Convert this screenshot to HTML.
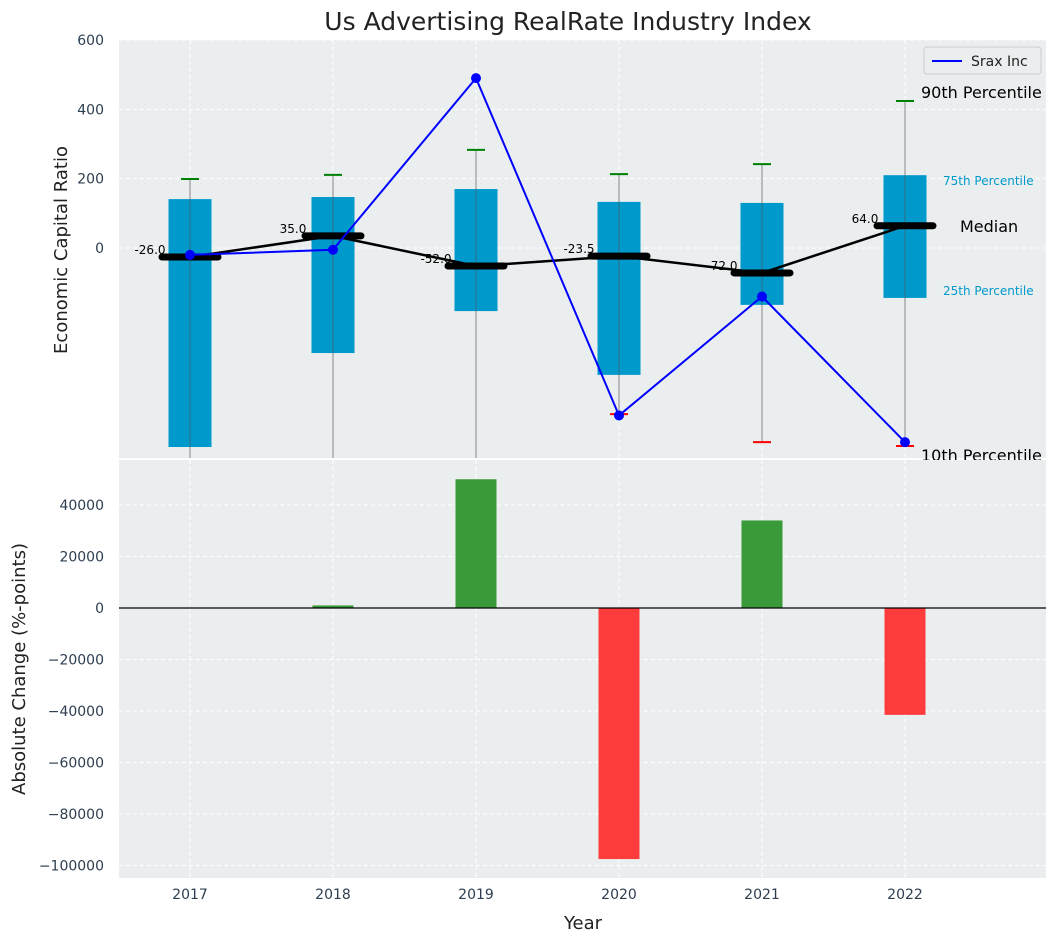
<!DOCTYPE html>
<html><head><meta charset="utf-8"><style>
body{margin:0;background:#fff;font-family:"Liberation Sans","DejaVu Sans",sans-serif}
svg text{font-family:"DejaVu Sans","Liberation Sans",sans-serif}
</style></head><body>
<svg id="c" width="1058" height="942"></svg>
<script>
const years=["2017","2018","2019","2020","2021","2022"];
const q75=[141,147,170,133,130,210];
const q25=[-574,-303,-182,-366,-164,-144];
const p90=[199,211,283,213,242,424];
const p10=[-700,-700,-700,-479,-560,-571];
const medians=[-26,35,-52,-23.5,-72,64];
const srax=[-20,-5,490,-483,-140,-560];
const changes=[0,1000,50000,-97500,34000,-41500];
const topTicks=[600,400,200,0];
const botTicks=[40000,20000,0,-20000,-40000,-60000,-80000,-100000];

const NS="http://www.w3.org/2000/svg";
const svg=document.getElementById('c');
function el(t,a,p){const e=document.createElementNS(NS,t);for(const k in a)e.setAttribute(k,a[k]);(p||svg).appendChild(e);return e;}
const L=119,R=1046;
const xs=i=>190+i*143;
const yT=v=>248-v*0.3467;
const yB=v=>608-v*0.002575;

el('text',{x:568,y:30,'font-size':25,fill:'#222','text-anchor':'middle'}).textContent='Us Advertising RealRate Industry Index';
let bg=el('rect',{x:L,y:40,width:R-L,height:418,fill:'#eaeeef'});

let cp=el('clipPath',{id:'ct'});el('rect',{x:L,y:40,width:R-L,height:418},cp);
let cpb=el('clipPath',{id:'cb'});el('rect',{x:L,y:460,width:R-L,height:418},cpb);
topTicks.forEach(t=>{
  el('line',{x1:L,x2:R,y1:yT(t),y2:yT(t),stroke:'#fff','stroke-dasharray':'4,3'});
  const tx=el('text',{x:104,y:yT(t)+5,'font-size':14,fill:'#2d3e50','text-anchor':'end'});tx.textContent=t;
  
});
years.forEach((y,i)=>{
  el('line',{x1:xs(i),x2:xs(i),y1:40,y2:878,stroke:'#fff','stroke-dasharray':'4,3'});
});
const gT=el('g',{'clip-path':'url(#ct)'});
years.forEach((y,i)=>{
  const x=xs(i);
  el('line',{x1:x,x2:x,y1:yT(p90[i]),y2:yT(p10[i]),stroke:'#888','stroke-width':1},gT);
  const b=el('rect',{x:x-21.5,y:yT(q75[i]),width:43,height:yT(q25[i])-yT(q75[i]),fill:'#0099cc'},gT);
  
  el('line',{x1:x,x2:x,y1:yT(q75[i]),y2:yT(q25[i]),stroke:'#555','stroke-width':1,opacity:0.6},gT);
  el('line',{x1:x-9,x2:x+9,y1:yT(p90[i]),y2:yT(p90[i]),stroke:'green','stroke-width':2},gT);
  el('line',{x1:x-9,x2:x+9,y1:yT(p10[i]),y2:yT(p10[i]),stroke:'red','stroke-width':2},gT);
  const m=el('line',{x1:x-28,x2:x+28,y1:yT(medians[i]),y2:yT(medians[i]),stroke:'#000','stroke-width':7,'stroke-linecap':'round'},gT);
  
  const t=el('text',{x:x-40,y:yT(medians[i])-3,'font-size':12,fill:'#000','text-anchor':'middle'},gT);t.textContent=medians[i].toFixed(1);
});
el('polyline',{points:medians.map((v,i)=>xs(i)+','+yT(v)).join(' '),fill:'none',stroke:'#000','stroke-width':2.5},gT);
const sl=el('polyline',{points:srax.map((v,i)=>xs(i)+','+yT(v)).join(' '),fill:'none',stroke:'blue','stroke-width':2},gT);

srax.forEach((v,i)=>el('circle',{cx:xs(i),cy:yT(v),r:5,fill:'blue'},gT));
[['90th Percentile',921,yT(424)-3,16,'#000'],['Median',960,232,16,'#000'],['75th Percentile',943,185,12,'#0099cc'],['25th Percentile',943,295,12,'#0099cc'],['10th Percentile',921,461,16,'#000']].forEach(a=>{
  const t=el('text',{x:a[1],y:a[2],'font-size':a[3],fill:a[4]});t.textContent=a[0];
  
});
const lg=el('g',{});
el('rect',{x:924,y:47,width:117,height:27,rx:3,fill:'#eaeeef',stroke:'#ccc'},lg);
el('line',{x1:932,x2:962,y1:61,y2:61,stroke:'blue','stroke-width':2},lg);
el('text',{x:971,y:66,'font-size':14,fill:'#222'},lg).textContent='Srax Inc';
const yl=el('text',{x:0,y:0,'font-size':18,fill:'#222','text-anchor':'middle',transform:'translate(67,250) rotate(-90)'});yl.textContent='Economic Capital Ratio';
const bg2=el('rect',{x:L,y:460,width:R-L,height:418,fill:'#eaeeef'});

botTicks.forEach(t=>{
  el('line',{x1:L,x2:R,y1:yB(t),y2:yB(t),stroke:'#fff','stroke-dasharray':'4,3'});
  const tx=el('text',{x:104,y:yB(t)+5,'font-size':14,fill:'#2d3e50','text-anchor':'end'});tx.textContent=t<0?'\u2212'+(-t):t;
});
years.forEach((y,i)=>{
  el('line',{x1:xs(i),x2:xs(i),y1:460,y2:878,stroke:'#fff','stroke-dasharray':'4,3'});
  const tx=el('text',{x:xs(i),y:899,'font-size':14,fill:'#2d3e50','text-anchor':'middle'});tx.textContent=y;
  
});
const gB=el('g',{'clip-path':'url(#cb)'});
changes.forEach((v,i)=>{
  const y0=yB(Math.max(v,0)),h=Math.abs(yB(v)-yB(0));
  const b=el('rect',{x:xs(i)-20.5,y:y0,width:41,height:h,fill:v>=0?'#3a9a3a':'#ff3c3c'},gB);
  
});
el('line',{x1:L,x2:R,y1:yB(0),y2:yB(0),stroke:'#000','stroke-width':1.2});
const yl2=el('text',{x:0,y:0,'font-size':18,fill:'#222','text-anchor':'middle',transform:'translate(25,669) rotate(-90)'});yl2.textContent='Absolute Change (%-points)';
const xl=el('text',{x:583,y:929,'font-size':18,fill:'#222','text-anchor':'middle'});xl.textContent='Year';

</script>
</body></html>
